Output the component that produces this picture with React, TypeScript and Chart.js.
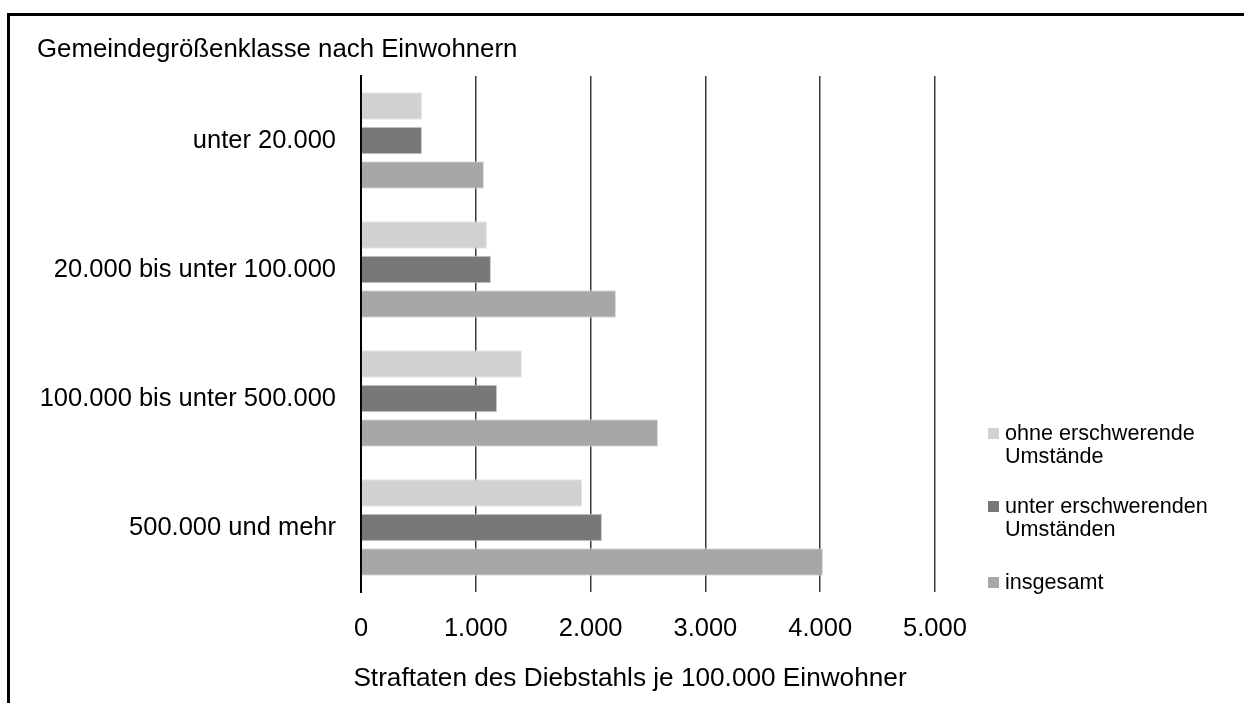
import React, { useEffect, useRef } from "react";
import { Chart, registerables } from "chart.js";

Chart.register(...registerables);

const categories = [
  "unter 20.000",
  "20.000 bis unter 100.000",
  "100.000 bis unter 500.000",
  "500.000 und mehr",
];
const seriesNames = ["ohne erschwerende Umstände", "unter erschwerenden Umständen", "insgesamt"];
const legendLines = [["ohne erschwerende", "Umstände"], ["unter erschwerenden", "Umständen"], ["insgesamt"]];
const ohneValues = [531, 1097, 1402, 1925];
const unterValues = [531, 1132, 1185, 2099];
const insgesamtValues = [1071, 2221, 2587, 4024];
const xTickValues = [0, 1000, 2000, 3000, 4000, 5000];
const chartTitle = "Gemeindegrößenklasse nach Einwohnern";
const xAxisTitle = "Straftaten des Diebstahls je 100.000 Einwohner";
const colors = ["#d0d1d3", "#77787a", "#a6a7a9"];

const FONT = "'Liberation Sans', Arial, sans-serif";

function fmt(v: number): string {
  return String(Math.round(v)).replace(/\B(?=(\d{3})+(?!\d))/g, ".");
}

const textPlugin = {
  id: "customTexts",
  afterDraw(chart: any) {
    const ctx = chart.ctx;
    ctx.save();
    ctx.fillStyle = "#000";
    ctx.textBaseline = "alphabetic";
    ctx.textAlign = "left";
    ctx.font = `25.8px ${FONT}`;
    ctx.fillText(chartTitle, 37, 57);
    ctx.textAlign = "center";
    ctx.font = `26.2px ${FONT}`;
    ctx.fillText(xAxisTitle, 630, 686);
    // legend
    ctx.textAlign = "left";
    ctx.font = `21.6px ${FONT}`;
    const itemTops = [434, 507, 583];
    legendLines.forEach((lines, i) => {
      const y0 = itemTops[i];
      ctx.fillStyle = colors[i];
      ctx.fillRect(988, y0 - 6, 11, 11);
      ctx.fillStyle = "#000";
      ctx.textBaseline = "middle";
      lines.forEach((ln, j) => {
        ctx.fillText(ln, 1005, y0 + j * 23.5);
      });
    });
    ctx.restore();
  },
};

export default function App() {
  const ref = useRef<HTMLCanvasElement | null>(null);
  useEffect(() => {
    if (!ref.current) return;
    const chart = new Chart(ref.current, {
      type: "bar",
      data: {
        labels: categories,
        datasets: [
          { label: seriesNames[0], data: ohneValues, backgroundColor: colors[0], borderColor: "#e4e5e6", borderWidth: 1 },
          { label: seriesNames[1], data: unterValues, backgroundColor: colors[1], borderColor: "#c8c8c9", borderWidth: 1 },
          { label: seriesNames[2], data: insgesamtValues, backgroundColor: colors[2], borderColor: "#dadadb", borderWidth: 1 },
        ],
      },
      options: {
        indexAxis: "y",
        responsive: false,
        animation: false,
        events: [],
        layout: { padding: { top: 76, right: 309, left: 0, bottom: 0 } },
        plugins: {
          legend: { display: false },
          title: { display: false },
          tooltip: { enabled: false },
        },
        datasets: { bar: { categoryPercentage: 0.8, barPercentage: 0.8 } },
        scales: {
          x: {
            type: "linear",
            min: 0,
            max: 5000,
            afterBuildTicks: (scale: any) => {
              scale.ticks = xTickValues.map((v) => ({ value: v }));
            },
            afterFit: (scale: any) => {
              scale.height = 111;
            },
            ticks: {
              callback: (v: any) => fmt(Number(v)),
              color: "#000",
              font: { family: FONT, size: 25.5 },
              padding: 22,
              maxRotation: 0,
            },
            grid: { color: "#3a3a3a", lineWidth: 1.5, drawTicks: false },
            border: { display: false },
          },
          y: {
            type: "category",
            afterFit: (scale: any) => {
              scale.width = 361;
            },
            ticks: {
              color: "#000",
              font: { family: FONT, size: 25.5 },
              padding: 25,
            },
            grid: { display: false, drawTicks: false },
            border: { display: true, color: "#000", width: 2 },
          },
        },
      },
      plugins: [textPlugin],
    } as any);
    return () => chart.destroy();
  }, []);

  return (
    <div style={{ position: "fixed", left: 0, top: 0, width: 1244, height: 703, overflow: "hidden", background: "#fff" }}>
      <canvas ref={ref} width={1244} height={703} style={{ position: "absolute", left: 0, top: 0, width: 1244, height: 703 }} />
      <div
        style={{
          position: "absolute",
          left: 7,
          top: 13,
          width: 1300,
          height: 800,
          border: "3px solid #000",
          pointerEvents: "none",
        }}
      />
    </div>
  );
}
